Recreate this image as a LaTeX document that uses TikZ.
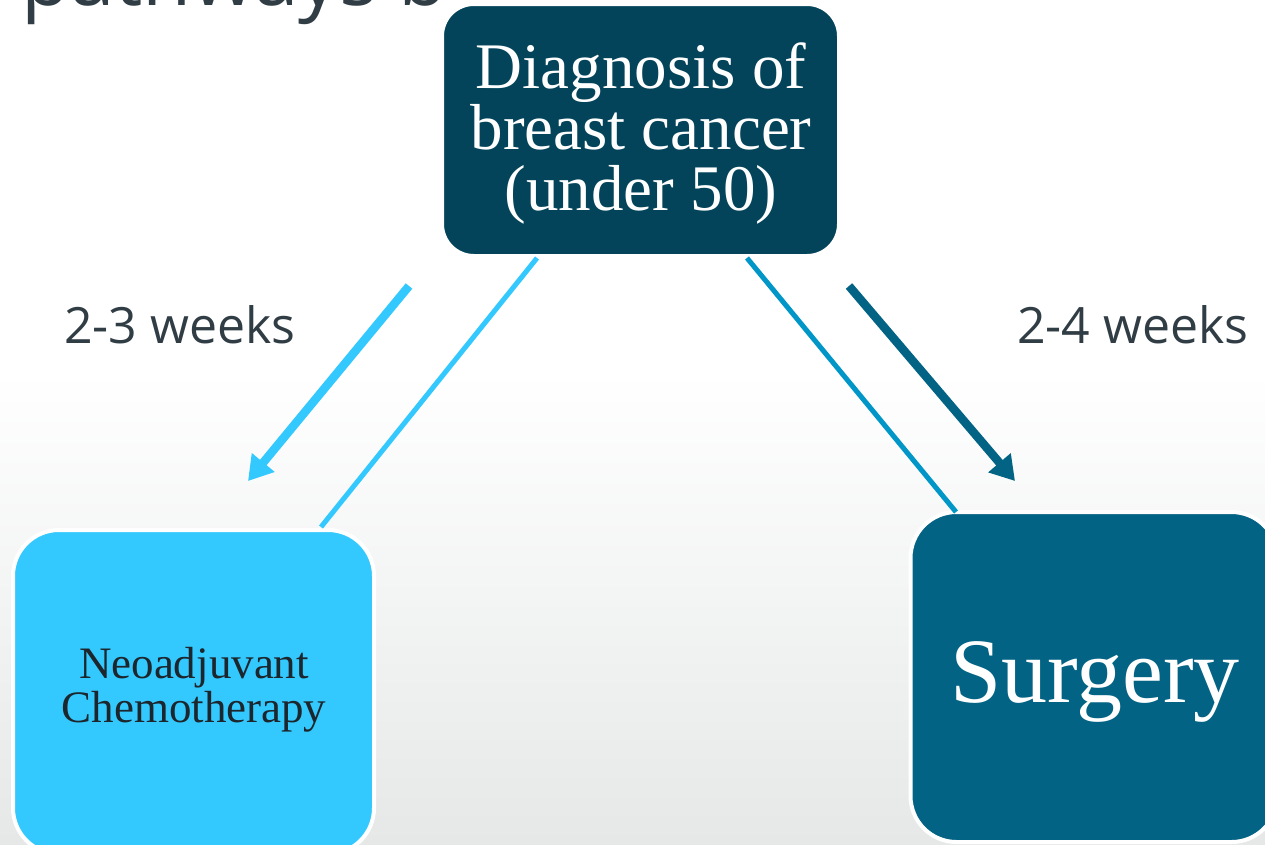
\documentclass[tikz,border=0pt]{standalone}
\usepackage{fontspec}
\setmainfont{Liberation Serif}
\newfontfamily\labelsans{Open Sans}
\usetikzlibrary{arrows.meta}
\definecolor{navy}{HTML}{03445A}
\definecolor{sky}{HTML}{33C9FF}
\definecolor{deepteal}{HTML}{036384}
\definecolor{midblue}{HTML}{0096C8}
\definecolor{inkgray}{HTML}{313D45}
\definecolor{bggray}{HTML}{E6E8E8}
\definecolor{chemoink}{HTML}{1C262C}
\begin{document}
\begin{tikzpicture}[x=1pt,y=-1pt,
  box/.style={rectangle, draw=white, line width=4pt, inner sep=0pt},
  boxtext/.style={inner sep=0pt, align=center},
  weeks/.style={anchor=base west, inner sep=0pt, text=inkgray,
    font=\labelsans\fontsize{50}{60}\selectfont},
  thickarrow/.style={line width=8.5pt, -{Triangle[length=24pt,width=28pt]}},
  thinline/.style={line width=5pt}]
\useasboundingbox (0,0) rectangle (1265,844);
\clip (0,0) rectangle (1265,844);
\fill[white] (0,0) rectangle (1265,844);
\shade[top color=white, bottom color=bggray] (0,370) rectangle (1265,844);

% title (cut off at top)
\node[anchor=base west, inner sep=0pt, text=inkgray,
  font=\labelsans\fontsize{80}{82}\selectfont] (title) at (21,5) {pathways b};

% boxes
\node[box, fill=navy, rounded corners=32pt, minimum width=397pt, minimum height=252pt]
  (diag) at (640.5,130) {};
\node[boxtext, text=white, font=\fontsize{65}{61}\selectfont] (diagtext) at (641,134)
  {Diagnosis of\\breast cancer\\(under 50)};

\node[box, fill=sky, rounded corners=46pt, minimum width=361pt, minimum height=324pt]
  (chemo) at (193.5,692) {};
\node[boxtext, text=chemoink, font=\fontsize{45}{44}\selectfont] (chemotext) at (194,689.5)
  {Neoadjuvant\\Chemotherapy};

\node[box, fill=deepteal, rounded corners=46pt, minimum width=367pt, minimum height=330pt]
  (surg) at (1094,677) {};
\node[boxtext, anchor=base, text=white, font=\fontsize{92}{92}\selectfont] (surgtext) at (1095,702)
  {Surgery};

% labels
\node[weeks] (w23) at (64,343) {2-3 weeks};
\node[weeks] (w24) at (1017,343) {2-4 weeks};

% connector end points
\coordinate (la) at (409,286);
\coordinate (lb) at (248,481);
\coordinate (ra) at (849,286);
\coordinate (rb) at (1015,481);
\coordinate (lt) at (537,258);
\coordinate (lc) at (321,527);
\coordinate (rt) at (747,258);
\coordinate (rc) at (956,512);

% connectors
\draw[thinline, sky] (lt) -- (lc);
\draw[thinline, midblue] (rt) -- (rc);
\draw[thickarrow, sky] (la) -- (lb);
\draw[thickarrow, deepteal] (ra) -- (rb);
\end{tikzpicture}
\end{document}
